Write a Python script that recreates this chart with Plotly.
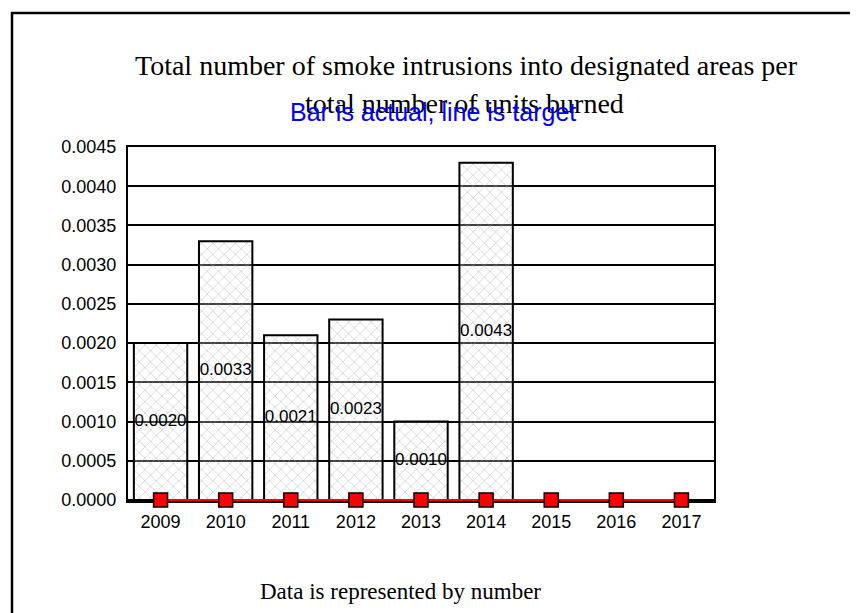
import plotly.graph_objects as go

years = ["2009", "2010", "2011", "2012", "2013", "2014", "2015", "2016", "2017"]
actual = [0.0020, 0.0033, 0.0021, 0.0023, 0.0010, 0.0043, None, None, None]
target = [0, 0, 0, 0, 0, 0, 0, 0, 0]
bar_labels = ["0.0020", "0.0033", "0.0021", "0.0023", "0.0010", "0.0043"]
y_ticks = [0.0, 0.0005, 0.0010, 0.0015, 0.0020, 0.0025, 0.0030, 0.0035, 0.0040, 0.0045]
y_tick_text = ["0.0000", "0.0005", "0.0010", "0.0015", "0.0020", "0.0025",
               "0.0030", "0.0035", "0.0040", "0.0045"]

title_line1 = "Total number of smoke intrusions into designated areas per"
title_line2 = "total number of units burned"
subtitle = "Bar is actual, line is target"
footer = "Data is represented by number"

OFF = 8  # page body margin
W, H = 850, 605
L, T = 128 - OFF, 147 - OFF
R = W - (714 - OFF)
B = H - (501 - OFF)
pw, ph = W - L - R, H - T - B

def px(x):
    return (x - OFF - L) / pw

def py(y):
    return (H - B - (y - OFF)) / ph

fig = go.Figure()

fig.add_trace(go.Bar(
    x=years, y=actual, width=0.82,
    marker=dict(
        color="rgba(255,255,255,0)",
        line=dict(color="black", width=2),
        pattern=dict(shape="x", fgcolor="#a0a0a0", bgcolor="rgba(255,255,255,0.25)",
                     size=8, solidity=0.18),
    ),
    showlegend=False, hoverinfo="skip",
))

fig.add_trace(go.Scatter(
    x=years[:len(bar_labels)],
    y=[v / 2 for v in actual[:len(bar_labels)]],
    mode="text", text=bar_labels,
    textfont=dict(family="Liberation Sans, Arial", size=17, color="black"),
    showlegend=False, hoverinfo="skip",
))

fig.add_trace(go.Scatter(
    x=years, y=target, mode="lines+markers",
    line=dict(color="#ff0000", width=2),
    marker=dict(symbol="square", size=14, color="#ff0000",
                line=dict(color="black", width=1.5)),
    cliponaxis=False, showlegend=False, hoverinfo="skip",
))

fig.update_xaxes(
    type="category", range=[-0.5, 8.5],
    showline=True, linecolor="black", linewidth=2, mirror=True,
    showgrid=False, ticks="", zeroline=False, layer="below traces",
    tickfont=dict(family="Liberation Sans, Arial", size=18, color="black"),
    ticklabelstandoff=3,
)
fig.update_yaxes(
    range=[-0.000013, 0.0045], tickvals=y_ticks, ticktext=y_tick_text,
    showline=True, linecolor="black", linewidth=2, mirror=True,
    showgrid=True, gridcolor="black", gridwidth=2, zeroline=False,
    ticks="", ticklabelstandoff=6,
    tickfont=dict(family="Liberation Sans, Arial", size=18, color="black"),
)

annotations = [
    dict(text=title_line1, x=px(466), y=py(65), xref="paper", yref="paper",
         showarrow=False, xanchor="center", yanchor="middle",
         font=dict(family="Liberation Serif, Times New Roman", size=28, color="black")),
    dict(text=title_line2, x=px(464), y=py(103), xref="paper", yref="paper",
         showarrow=False, xanchor="center", yanchor="middle",
         font=dict(family="Liberation Serif, Times New Roman", size=28, color="black")),
    dict(text=subtitle, x=px(433), y=py(112), xref="paper", yref="paper",
         showarrow=False, xanchor="center", yanchor="middle",
         font=dict(family="Liberation Sans, Arial", size=25, color="#0000ff")),
    dict(text=footer, x=px(400), y=py(591), xref="paper", yref="paper",
         showarrow=False, xanchor="center", yanchor="middle",
         font=dict(family="Liberation Serif, Times New Roman", size=23, color="black")),
]

fig.update_layout(
    width=W, height=H,
    margin=dict(l=L, r=R, t=T, b=B),
    paper_bgcolor="white", plot_bgcolor="white",
    annotations=annotations,
    shapes=[dict(type="rect", xref="paper", yref="paper",
                 x0=px(12), x1=px(900), y0=py(660), y1=py(13),
                 line=dict(color="black", width=2.5), fillcolor="rgba(0,0,0,0)",
                 layer="below")],
)

fig.write_html("out.html")
